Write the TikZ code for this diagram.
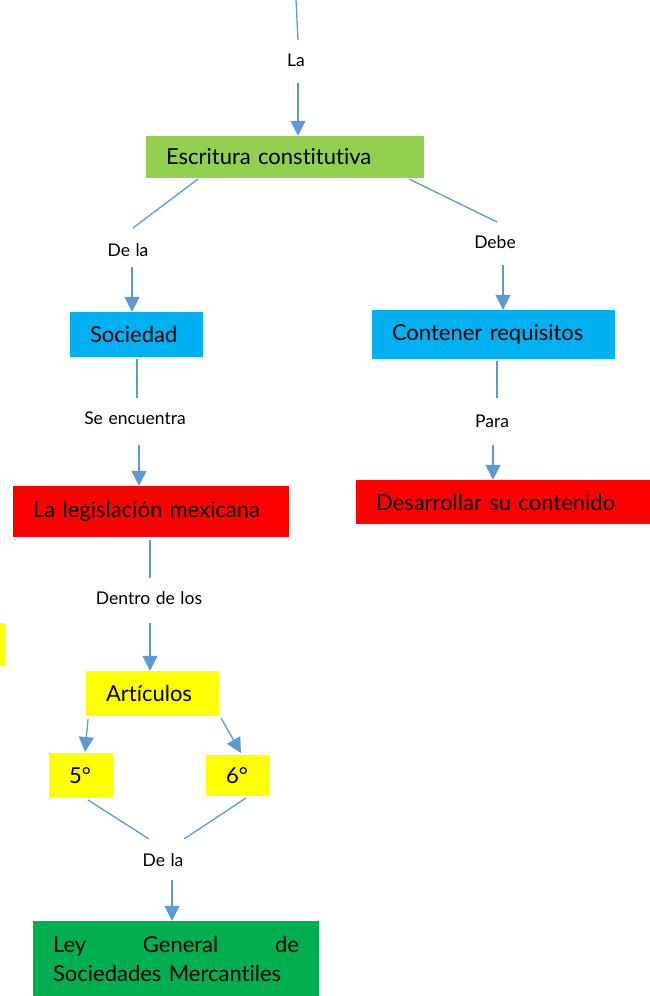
\documentclass[tikz,border=0pt]{standalone}
\usepackage{fontspec}
\setmainfont{Lato}[Ligatures=NoCommon, WordSpace=1.25]
\usetikzlibrary{arrows.meta}
\definecolor{cGreenA}{HTML}{92D050}
\definecolor{cGreenB}{HTML}{00B050}
\definecolor{cBlue}{HTML}{00B0F0}
\definecolor{cRed}{HTML}{FF0000}
\definecolor{cYel}{HTML}{FFFF00}
\definecolor{cLink}{HTML}{5B9BD5}
\begin{document}
\begin{tikzpicture}[x=1pt,y=-1pt,
  box/.style={anchor=center, inner xsep=20pt, inner ysep=0pt, align=left,
              font=\fontsize{22}{29}\selectfont, text=black},
  lbl/.style={font=\fontsize{17.5}{21}\selectfont, inner sep=0pt, text=black},
  link/.style={draw=cLink, line width=1.3pt},
  arr/.style={link, -{Triangle[length=15pt,width=15pt]}}]
\useasboundingbox (0,0) rectangle (649,996);

% boxes
\node[box, fill=cGreenA, text width=238pt, minimum height=42pt] (esc) at (285,157) {\mbox{Escritura constitutiva}};
\node[box, fill=cBlue, text width=93pt, minimum height=45pt] (soc) at (136.5,334.5) {\mbox{Sociedad}};
\node[box, fill=cBlue, text width=203pt, minimum height=49pt] (con) at (493.5,334.5) {\mbox{Contener requisitos}};
\node[box, fill=cRed, text width=236pt, minimum height=51pt] (leg) at (151,511.5) {\mbox{La legislación mexicana}};
\node[box, fill=cRed, text width=254pt, minimum height=44pt] (des) at (503,502) {\mbox{Desarrollar su contenido}};
\node[box, fill=cYel, text width=93pt, minimum height=45pt] (art) at (152.5,693.5) {\mbox{Artículos}};
\node[box, fill=cYel, text width=24pt, minimum height=45pt] (a5) at (81,775.5) {\mbox{5°}};
\node[box, fill=cYel, text width=24pt, minimum height=41pt] (a6) at (238,775.5) {\mbox{6°}};
\node[box, fill=cGreenB, text width=246pt, minimum height=75pt] (ley) at (176,958.5) {Ley\hfill General\hfill de\\\mbox{Sociedades Mercantiles}};
\node[fill=cYel, minimum width=5pt, minimum height=43pt, inner sep=0pt] (cut) at (2.5,644.5) {};

% labels
\node[lbl] (la) at (296,60) {La};
\node[lbl] (dela1) at (128,250) {De la};
\node[lbl] (debe) at (495,242) {Debe};
\node[lbl] (seenc) at (135,418) {Se encuentra};
\node[lbl] (para) at (492,421) {Para};
\node[lbl] (dentro) at (149,598) {Dentro de los};
\node[lbl] (dela2) at (163,860) {De la};

% connector end points
\coordinate (t0) at (296,0);   \coordinate (t1) at (298,40);  \coordinate (t2) at (298,83);
\coordinate (a0) at (198,179); \coordinate (a1) at (133,228); \coordinate (a2) at (132,267);
\coordinate (d0) at (409,179); \coordinate (d1) at (497,222); \coordinate (d2) at (503,265);
\coordinate (s0) at (137,359); \coordinate (s1) at (137,398); \coordinate (s2) at (139,445);
\coordinate (p0) at (497,361); \coordinate (p1) at (497,398); \coordinate (p2) at (493,445);
\coordinate (n0) at (150,540); \coordinate (n1) at (150,578); \coordinate (n2) at (150,623);
\coordinate (f0) at (88,719);  \coordinate (f1) at (85,752);
\coordinate (g0) at (221,718); \coordinate (g1) at (241,753);
\coordinate (h0) at (88,800);  \coordinate (h1) at (149,839);
\coordinate (k0) at (246,798); \coordinate (k1) at (184,839);
\coordinate (m0) at (172,880);

% connectors
\draw[link] (t0) -- (t1);
\draw[arr] (t2) -- (t2 |- esc.north);
\draw[link] (a0) -- (a1);
\draw[arr] (a2) -- (a2 |- soc.north);
\draw[link] (d0) -- (d1);
\draw[arr] (d2) -- (d2 |- con.north);
\draw[link] (s0) -- (s1);
\draw[arr] (s2) -- (s2 |- leg.north);
\draw[link] (p0) -- (p1);
\draw[arr] (p2) -- (p2 |- des.north);
\draw[link] (n0) -- (n1);
\draw[arr] (n2) -- (n2 |- art.north);
\draw[arr] (f0) -- (f1);
\draw[arr] (g0) -- (g1);
\draw[link] (h0) -- (h1);
\draw[link] (k0) -- (k1);
\draw[arr] (m0) -- (m0 |- ley.north);
\end{tikzpicture}
\end{document}
